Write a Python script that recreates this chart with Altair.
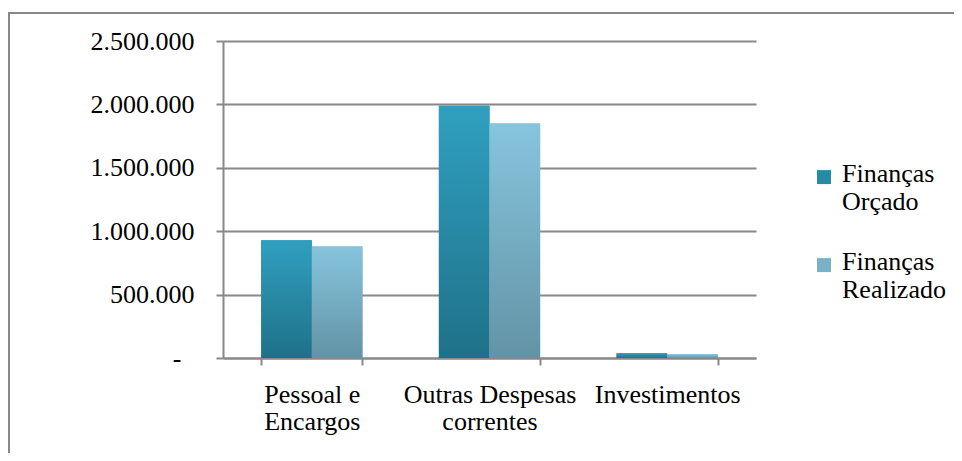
import altair as alt
import pandas as pd

categories = ["Pessoal e\nEncargos", "Outras Despesas\ncorrentes", "Investimentos"]
series = ["Finanças Orçado", "Finanças Realizado"]
orcado = [929000, 1990000, 38000]
realizado = [880000, 1850000, 29000]
y_ticks = [0, 500000, 1000000, 1500000, 2000000, 2500000]
title_text = "Gráfico 6: Execução Orçamentária da Secr. de Finanças"

rows = []
for c, o, r in zip(categories, orcado, realizado):
    rows.append({"cat": c, "serie": series[0], "valor": o})
    rows.append({"cat": c, "serie": series[1], "valor": r})
df = pd.DataFrame(rows)

FONT = "'Liberation Serif', 'Times New Roman', serif"
GRAY = "#888888"


def grad(top, bottom):
    return alt.Gradient(
        gradient="linear", x1=0, x2=0, y1=0, y2=1,
        stops=[alt.GradientStop(color=top, offset=0),
               alt.GradientStop(color=bottom, offset=1)],
    )


x_enc = alt.X(
    "cat:N", sort=categories, title=None,
    scale=alt.Scale(paddingInner=0.43, paddingOuter=0.215),
    axis=alt.Axis(
        labelExpr="split(datum.label, '\\n')", labelAngle=0, labelFont=FONT,
        labelFontSize=26, labelColor="black", labelLineHeight=27,
        labelPadding=16, labelBaseline="top", tickBand="extent", tickSize=7,
        tickColor=GRAY, tickWidth=2, domainColor=GRAY, domainWidth=2, grid=False,
    ),
)
y_enc = alt.Y(
    "valor:Q", title=None,
    scale=alt.Scale(domain=[0, 2500000], nice=False),
    axis=alt.Axis(
        values=y_ticks,
        labelExpr="datum.value == 0 ? '-' : replace(format(datum.value, ',.0f'), regexp(',', 'g'), '.')",
        labelFont=FONT, labelFontSize=26, labelColor="black",
        labelPadding={"condition": {"test": "datum.value == 0", "value": 35}, "value": 22},
        tickSize=7, tickColor=GRAY, tickWidth=2, domainColor=GRAY, domainWidth=2,
        grid=True, gridColor=GRAY, gridWidth=2,
    ),
)
xo_enc = alt.XOffset("serie:N", sort=series, scale=alt.Scale(paddingInner=0, paddingOuter=0))

sym_path = "M-1,-1.7H1V0.3H-1Z"

base = alt.Chart(df).mark_bar().encode(
    x=x_enc, xOffset=xo_enc, y=y_enc,
    color=alt.Color(
        "serie:N", sort=series,
        scale=alt.Scale(domain=series, range=["#2889A6", "#78B1C8"]),
        legend=alt.Legend(
            orient="none", legendX=588, legendY=128, title=None,
            labelExpr="split(datum.label, ' ')", labelFont=FONT, labelFontSize=26,
            labelColor="black", labelBaseline="alphabetic",
            symbolType=sym_path, symbolSize=196, symbolStrokeWidth=0,
            labelOffset=5, rowPadding=34, padding=0,
        ),
    ),
)

bars_o = alt.Chart(df).transform_filter(alt.datum.serie == series[0]).mark_bar(
    color=grad("#30A0C0", "#1F7189")
).encode(x=x_enc, xOffset=xo_enc, y=y_enc)

bars_r = alt.Chart(df).transform_filter(alt.datum.serie == series[1]).mark_bar(
    color=grad("#86C5DE", "#6393A5")
).encode(x=x_enc, xOffset=xo_enc, y=y_enc)

frame = alt.Chart(pd.DataFrame({"k": [0]})).mark_rect(
    fill="transparent", stroke=GRAY, strokeWidth=2
).encode(x=alt.value(-214), x2=alt.value(900), y=alt.value(-28), y2=alt.value(600))

title = alt.Chart(pd.DataFrame({"t": [title_text]})).mark_text(
    font=FONT, fontSize=25, fontWeight="bold", color="black", baseline="alphabetic"
).encode(text="t:N", x=alt.value(266), y=alt.value(-40))

chart = alt.layer(frame, base, bars_o, bars_r, title).properties(
    width=533, height=317,
    autosize=alt.AutoSizeParams(type="none"),
    padding={"left": 215, "top": 33, "right": 198, "bottom": 95},
).configure_view(stroke=None)

chart.save("out.html", embed_options={"renderer": "svg", "actions": False})
